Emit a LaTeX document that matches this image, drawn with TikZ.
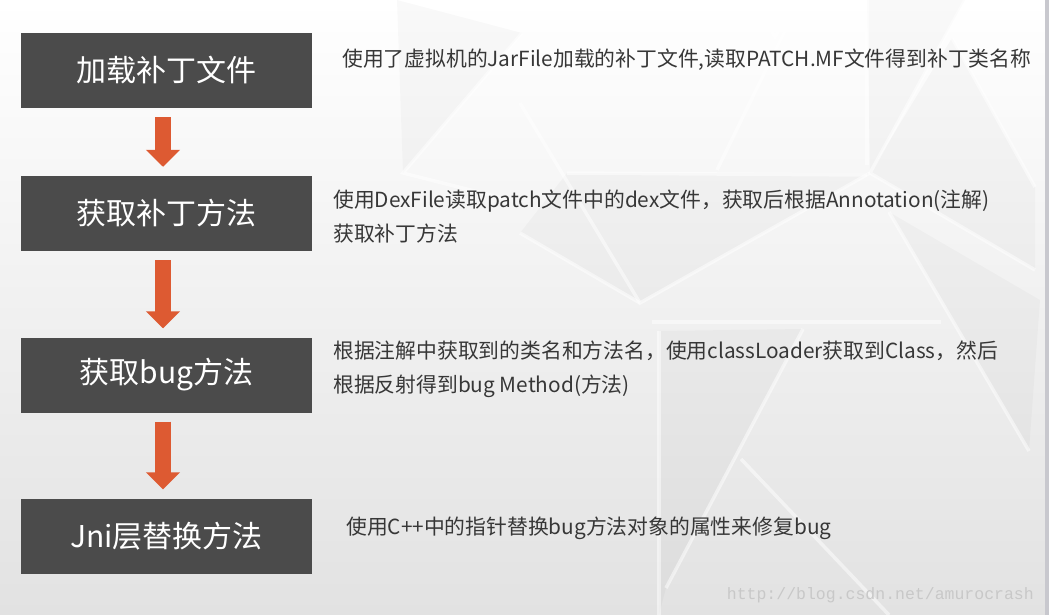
\documentclass[tikz,border=0pt]{standalone}
\usepackage{fontspec}
\setmainfont{Noto Sans CJK SC}
\newfontfamily\markfont{Liberation Mono}
\usepackage{tikz}
\usetikzlibrary{arrows.meta,positioning,calc}
\definecolor{boxgray}{RGB}{75,75,75}
\definecolor{arroworange}{RGB}{221,90,50}
\definecolor{textgray}{RGB}{55,55,55}
\definecolor{markgray}{RGB}{200,200,200}
\definecolor{edgegray}{RGB}{200,200,206}
\tikzset{
  stepbox/.style={fill=boxgray, text=white, minimum width=291pt, minimum height=75pt,
    inner sep=0pt, font=\fontsize{30}{36}\selectfont},
  desc/.style={anchor=west, align=left, text=textgray, inner sep=0pt,
    font=\fontsize{20.8}{34}\selectfont},
  flow/.style={draw=arroworange, line width=16pt, -{Triangle[width=33pt,length=17pt]},
    shorten <=9pt, shorten >=9pt},
  facet/.style={draw=white, line width=3.5pt, opacity=0.5},
  shadefacet/.style={fill=black, opacity=0.025}
}
\begin{document}
\begin{tikzpicture}[x=1pt,y=-1pt]
\useasboundingbox (0,0) rectangle (1049,615);
\shade[top color=white, bottom color={rgb,255:red,226;green,226;blue,226}] (0,0) rectangle (1049,615);

% background facets
\fill[shadefacet] (867,0) -- (965,0) -- (870,173) -- cycle;
\fill[shadefacet] (870,173) -- (1035,270) -- (1035,187) -- (952,38) -- cycle;
\fill[shadefacet] (520,233) -- (640,303) -- (870,173) -- (567,173) -- cycle;
\fill[shadefacet] (659,331) -- (803,329) -- (666,588) -- (659,615) -- cycle;
\fill[shadefacet] (889,212) -- (1029,451) -- (1040,300) -- cycle;
\fill[shadefacet] (397,0) -- (522,33) -- (403,173) -- cycle;
\draw[facet] (753,0) -- (775,37) -- (797,0);
\draw[facet] (867,0) -- (867,165);
\draw[facet] (717,170) -- (800,0);
\draw[facet] (567,173) -- (867,175);
\draw[facet] (965,0) -- (870,173) -- (1035,270);
\draw[facet] (870,173) -- (640,303) -- (520,103);
\draw[facet] (520,233) -- (640,303);
\draw[facet] (952,38) -- (1035,187);
\draw[facet] (652,322) -- (941,322);
\draw[facet] (889,212) -- (1029,451);
\draw[facet] (659,331) -- (659,615);
\draw[facet] (803,329) -- (666,588);
\draw[facet] (741,459) -- (889,615);
\draw[facet] (522,33) -- (403,173) -- (510,200);
\fill[edgegray] (1045,0) rectangle (1049,615);

% steps
\node[stepbox] (load) at (166.5,70.5) {加载补丁文件};
\node[stepbox] (getpatch) at (166.5,213.5) {获取补丁方法};
\node[stepbox] (getbug) at (166.5,375) {获取bug方法};
\node[stepbox] (jni) at (166.5,536) {Jni层替换方法};

% descriptions
\node[desc] (loadtxt) at (342,60) {使用了虚拟机的JarFile加载的补丁文件,读取PATCH.MF文件得到补丁类名称};
\node[desc] (getpatchtxt) at (333,217) {使用DexFile读取patch文件中的dex文件，获取后根据Annotation(注解)\\获取补丁方法};
\node[desc] (getbugtxt) at (333,369.5) {根据注解中获取到的类名和方法名，使用classLoader获取到Class，然后\\根据反射得到bug Method(方法)};
\node[desc] (jnitxt) at (346,528) {使用C++中的指针替换bug方法对象的属性来修复bug};

% arrows
\draw[flow] ([xshift=-3.5pt]load.south) -- ([xshift=-3.5pt]getpatch.north);
\draw[flow] ([xshift=-3.5pt]getpatch.south) -- ([xshift=-3.5pt]getbug.north);
\draw[flow] ([xshift=-3.5pt]getbug.south) -- ([xshift=-3.5pt]jni.north);

% watermark
\node[anchor=east, text=markgray, inner sep=0pt, font=\markfont\fontsize{16.5}{20}\selectfont] (mark) at (1034,595) {http://blog.csdn.net/amurocrash};
\end{tikzpicture}
\end{document}
